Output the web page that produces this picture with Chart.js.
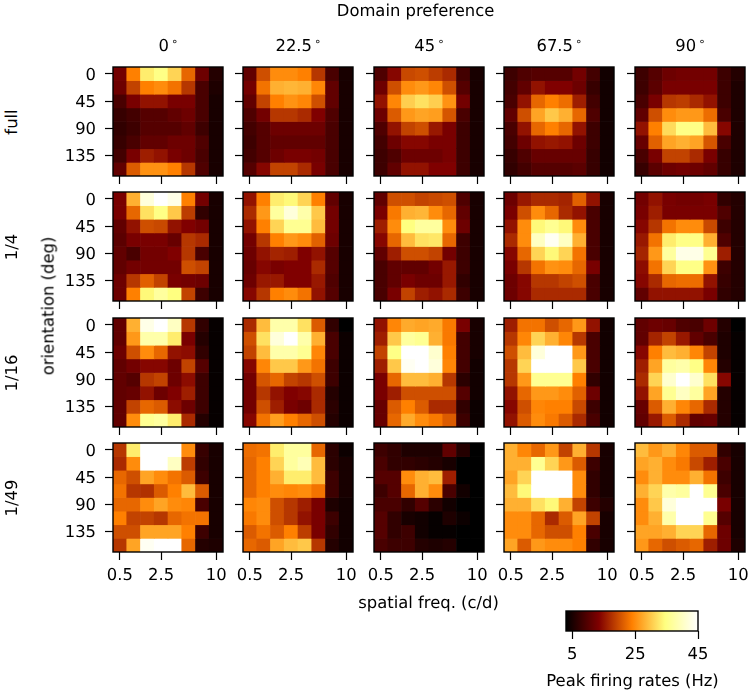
<!DOCTYPE html>
<html>
<head>
<meta charset="utf-8">
<script src="https://cdn.jsdelivr.net/npm/chart.js@4"></script>
<style>
  html, body { margin: 0; padding: 0; background: #fff; }
  #fig { position: relative; width: 750px; height: 692px; overflow: hidden; font-family: "DejaVu Sans", sans-serif; color: #000; text-rendering: geometricPrecision; }
  #fig canvas { position: absolute; }
  .lbl { position: absolute; font-size: 16.4px; white-space: nowrap; transform: translate(-50%, -50%); }
  .rot { transform: translate(-50%, -50%) rotate(-90deg); }
  .deg { font-size: 11px; vertical-align: 3px; margin-left: 3px; }
</style>
</head>
<body>
<div id="fig"></div>
<script>
// -------- data (Hz) --------------------------------
const domainLabels = ["0", "22.5", "45", "67.5", "90"];
const contrastLabels = ["full", "1/4", "1/16", "1/49"];
const freqLabels = ["0.5", "", "", "2.5", "", "", "", "10"];
const orientLabels = ["0", "", "45", "", "90", "", "135", ""];
const cbTicks = [5, 25, 45];

const full0 = [
  [12.5, 24, 33, 35, 31, 22, 12, 6], [12, 19, 24, 25, 23, 18, 9, 5.5],
  [9, 13, 15, 15, 13, 13, 9, 5], [7.5, 8.5, 10, 10, 11, 12, 9, 5],
  [7, 8, 10, 10, 10, 11, 8, 5], [7.5, 9, 11, 11, 12, 12, 9.5, 5],
  [8.5, 13, 16, 15, 13, 12, 9, 5], [11, 21, 25.5, 25.5, 24, 18, 9.5, 5]];
const full22 = [
  [11, 20, 25, 25, 24, 18, 9, 5], [12.5, 23, 28, 28.5, 28, 24.5, 11, 5],
  [11, 19, 24, 25.5, 24.5, 20, 11, 5], [9.5, 12.5, 18, 18, 17, 13.5, 9.5, 5],
  [8.5, 10, 12, 12, 12, 12, 9, 5], [8, 10, 11, 11, 11, 11, 9, 5],
  [8.5, 10, 12, 13, 13, 12.5, 9, 5], [10, 14, 19, 19, 17, 13, 9, 5]];
const full45 = [
  [9.5, 14, 19.5, 20, 18.5, 17, 8.5, 5], [12, 20, 25, 26, 24.5, 20, 10, 5],
  [15, 24.5, 30.5, 32, 30.5, 25.5, 12.5, 5], [12, 21, 26, 27, 26.5, 20.5, 9, 5],
  [9.5, 15, 19, 20, 15.5, 13, 8, 5], [8.5, 12, 14, 14, 13, 13, 8, 5],
  [8, 9.5, 12, 12, 12, 13, 8, 5], [8, 11, 15, 15, 13.5, 13.5, 8, 5]];
const full67 = [
  [8, 9.5, 10, 10, 10, 12.5, 8.5, 4.5], [8.5, 11, 15, 13.5, 13.5, 12, 7.5, 4.5],
  [9, 15, 22, 24, 22.5, 16, 8.5, 4.5], [11, 20, 27, 30, 28, 22, 9.5, 4.5],
  [9, 15, 22, 24, 22, 15, 8, 4.5], [8.5, 12, 15, 15.5, 15, 12, 8, 4.5],
  [7.5, 9.5, 11.5, 11.5, 11.5, 11.5, 7.5, 4.5], [7, 8.5, 10, 10, 10, 10.5, 7.5, 4.5]];
const full90 = [
  [8, 10, 12, 12.5, 12.5, 12.5, 8, 6], [8, 10.5, 13, 13, 13, 13, 8, 5.5],
  [9, 13, 18, 18.5, 17, 15, 8, 5.5], [11, 20, 25, 26, 26, 22.5, 9, 5.5],
  [15, 24, 31.5, 35, 35, 29, 14, 5.5], [11.5, 21.5, 27, 28, 27, 20.5, 9, 5.5],
  [9, 13, 19, 19, 17, 13, 7.5, 5.5], [7.5, 10.5, 12, 12.5, 12, 11, 7.5, 5.5]];

const quarter0 = [
  [13, 28, 42, 45, 43, 24, 12.5, 5], [13, 22, 32, 35, 30, 18.5, 7, 5],
  [11, 15, 20, 19.5, 15, 13.5, 12.5, 5], [10.5, 13, 13, 13, 11.5, 18, 17, 5],
  [11, 9, 12.5, 12.5, 13.5, 18, 9, 5], [11, 12.5, 12.5, 12.5, 12.5, 20, 19, 5],
  [12, 18, 21.5, 19, 13, 12.5, 12, 5], [12, 24, 34, 37, 34.5, 19, 8, 5]];
const quarter22 = [
  [15, 24, 33, 34, 31, 24, 11, 5], [17, 26, 37, 42, 38, 30, 12.5, 5],
  [15, 24, 31, 36, 36, 29, 12.5, 5], [12.5, 18, 24, 26, 25, 21.5, 12, 5],
  [12, 15, 16.5, 16, 13.5, 15, 10, 5], [11.5, 14, 13, 13.5, 13.5, 17, 10, 5],
  [12, 15.5, 15.5, 13.5, 13.5, 15.5, 9.5, 5], [14, 18, 24, 25, 23, 15, 10, 5]];
const quarter45 = [
  [11, 20, 20, 19, 19.5, 20, 9.5, 5], [13, 23.5, 28, 28.5, 25, 22, 11, 5],
  [16, 25, 34.5, 37, 37, 25, 12, 5], [14, 22, 29, 32, 32.5, 22, 8, 5],
  [11, 16, 20, 20, 19, 12.5, 8, 5], [9, 11, 11, 11, 12.5, 15.5, 8, 5],
  [9, 11, 13, 12, 12, 15.5, 7, 5], [9, 13, 19, 16, 15, 17, 8, 5]];
const quarter67 = [
  [12, 15.5, 17, 17, 16.5, 21.5, 15, 5], [13, 20, 25, 22, 17, 15, 9, 5],
  [15, 25, 34, 36, 34, 25, 9, 5], [17, 25, 40, 44, 40, 28, 9, 5],
  [14, 22, 31, 34, 31, 23, 9, 5], [13, 18, 23, 25.5, 25, 22, 13, 5],
  [12, 14, 18, 18, 19, 20, 9, 5], [12, 14, 17, 17, 17, 17, 9, 5]];
const quarter90 = [
  [12.5, 15, 13, 12.5, 12.5, 13, 7, 6], [13, 16, 13, 13, 13, 13, 9.5, 6],
  [14, 18, 23, 25, 25, 19.5, 8, 6], [15.5, 23, 33, 35, 35, 28, 9.5, 6],
  [16.5, 26, 37, 43, 43, 36, 16, 6], [14.5, 23, 31, 35, 35, 25.5, 8, 6],
  [14, 17, 22, 22.5, 22.5, 15, 7.5, 6], [11, 15, 15, 15, 15, 13, 7, 6]];

const sixteenth0 = [
  [11, 28, 43, 45, 40, 18, 7, 3.5], [11, 26, 38, 38, 33, 13, 6, 3.5],
  [12, 20, 25, 22, 15, 14.5, 7, 3.5], [11, 12.5, 14, 14, 12, 19, 10, 3.5],
  [11, 10, 18, 19, 12, 14.5, 8, 3.5], [11, 11.5, 15, 12, 13.5, 16, 8, 3.5],
  [11, 19, 22, 21, 14.5, 12, 8, 3.5], [11, 25, 36, 37, 33, 17, 6, 3.5]];
const sixteenth22 = [
  [17, 29, 38, 38, 32, 21, 7, 3], [20, 32, 42, 45, 38, 28, 9, 4],
  [19, 29, 38, 38, 36, 24.5, 9, 4], [14, 24.5, 30, 30, 26, 23, 8, 4],
  [12.5, 20.5, 22, 19, 18, 20, 8, 4], [12.5, 18, 15, 13.5, 14, 17, 6, 4],
  [12.5, 20, 16, 13, 12, 17, 6.5, 4], [14, 23, 26.5, 24, 22, 20, 6, 4]];
const sixteenth45 = [
  [15, 24.5, 27.5, 27, 27.5, 23.5, 13, 5], [16, 30, 37, 36, 28, 23.5, 8.5, 5],
  [19, 35, 45, 45, 41, 24, 8.5, 5], [16, 30, 44, 45, 42, 24.5, 8.5, 4.5],
  [13, 22, 29, 29, 28, 18, 6.5, 4.5], [13, 16, 20, 20, 20, 20, 10, 4.5],
  [11.5, 21, 24, 21, 17, 17, 7, 4], [11.5, 22, 27.5, 25, 23.5, 21, 8, 4]];
const sixteenth67 = [
  [16, 23, 23, 20, 22, 26, 15, 4.5], [18, 24.5, 31, 28, 24.5, 18, 9, 4.5],
  [20, 29, 42, 45, 45, 26, 9, 4.5], [18, 31, 45, 45, 45, 30, 9, 4.5],
  [18, 26, 36, 36, 36, 24, 7, 4.5], [15, 22, 26, 26, 25, 21.5, 12, 4.5],
  [14, 20, 24.5, 24, 24, 19.5, 8, 4.5], [15, 21, 25, 23.5, 21, 17, 9, 4.5]];
const sixteenth90 = [
  [11, 12, 11.5, 9.5, 9, 12, 6, 3], [11, 16.5, 19, 15.5, 11, 9, 5.5, 3.5],
  [14, 24, 29, 28, 24.5, 19, 5.5, 3.5], [16, 27, 37, 38, 35, 24.5, 6, 3.5],
  [17, 31, 41, 45, 41, 32, 14, 3.5], [15, 27, 36, 40, 37, 27, 6, 3.5],
  [11.5, 21, 28, 24.5, 22, 17, 6, 3.5], [11, 15.5, 21, 17, 11, 11.5, 6, 3.5]];

const fortyNinth0 = [
  [18, 33, 45, 45, 45, 25, 7.5, 5], [17, 25, 45, 45, 40, 18.5, 7, 5],
  [22, 20, 27, 25, 23, 21, 8, 5], [23, 18, 17.5, 21, 24, 29, 21, 5],
  [22, 22, 25, 27, 25, 24.5, 9, 5], [24, 19, 19, 18, 22, 23, 23, 5],
  [20, 20, 27, 27, 27, 24, 8, 5], [18, 27, 44, 45, 45, 22, 6, 5.5]];
const fortyNinth22 = [
  [22.5, 23, 33, 37, 37, 22, 6.5, 4], [22, 24, 31, 37, 39, 29, 6.5, 5],
  [22, 24, 28, 33, 33, 29, 8, 5], [22, 24, 25, 24.5, 25, 23, 8, 5],
  [24.5, 25, 20, 18, 16, 13, 5.5, 4.5], [23.5, 25, 20, 18, 15, 13, 8, 4.5],
  [21, 23, 21, 24, 18.5, 13, 7, 4.5], [22, 21, 27, 29, 30, 18, 6, 4.5]];
const fortyNinth45 = [
  [8, 7, 5.5, 5.5, 5.5, 11, 6, 3], [9, 7, 7, 6.5, 6, 5, 3, 3],
  [10, 10, 25, 28, 29, 16, 3, 3], [8, 10, 22, 28, 25, 9, 4.5, 3],
  [9, 9, 7, 10, 6.5, 4.5, 3, 3], [10, 7, 5, 4.5, 3.5, 5.5, 4, 3],
  [10, 7, 8, 4.5, 3.5, 3.5, 3, 3], [9, 8, 8, 6, 5.5, 6, 3, 3]];
const fortyNinth67 = [
  [28, 24.5, 22, 26, 19, 28, 18, 5], [28, 28, 36, 31, 26, 21, 8, 5],
  [27, 31, 45, 45, 45, 25, 7, 5], [29, 34, 45, 45, 45, 25, 7, 5],
  [28, 28, 32, 34, 28, 19, 8, 6], [25, 25, 22, 17, 21, 27, 19, 5],
  [25, 25, 22, 20, 20, 24, 9, 5], [27, 21, 26, 25, 25, 24, 7, 5]];
const fortyNinth90 = [
  [29, 26, 28, 24.5, 21, 21, 7, 5], [27, 28, 25, 23.5, 19.5, 16, 9, 5],
  [25, 28, 25, 25, 28, 23, 8, 5], [28, 31, 38, 37, 45, 36, 9, 5],
  [25, 30, 42, 45, 45, 45, 13, 5], [25, 28, 38, 45, 45, 36, 10, 5],
  [27, 27, 28, 31, 31, 22, 12, 5], [26, 22, 20, 21, 22, 16, 12, 5.5]];

const panels = [
  [full0, full22, full45, full67, full90],
  [quarter0, quarter22, quarter45, quarter67, quarter90],
  [sixteenth0, sixteenth22, sixteenth45, sixteenth67, sixteenth90],
  [fortyNinth0, fortyNinth22, fortyNinth45, fortyNinth67, fortyNinth90]
];

// -------- layout ----------
const fig = document.getElementById("fig");
const FONT = "DejaVu Sans";
const TICK_SIZE = 16.4;
const TICK_LEN = 8;
const colLefts = [113, 243, 374, 504, 635];
const rowTops = [67, 192, 318, 443];
const PLOT_W = 110, PLOT_H = 109;
const M_LEFT = 52, M_TOP = 4, M_RIGHT = 4, M_BOTTOM = 38;
const VMIN = 3, VMAX = 45;

Chart.defaults.font.family = FONT;
Chart.defaults.color = "#000";

// -------- colormap (afmhot) ----------
function afmhot(v) {
  const t = Math.min(1, Math.max(0, (v - VMIN) / (VMAX - VMIN)));
  const ch = (x) => Math.round(255 * Math.min(1, Math.max(0, x)));
  return `rgb(${ch(2 * t)},${ch(2 * t - 0.5)},${ch(2 * t - 1)})`;
}

const framePlugin = {
  id: "frame",
  beforeDraw(chart) { chart.ctx.textRendering = "geometricPrecision"; },
  afterDatasetsDraw(chart) {
    const { ctx, chartArea: a } = chart;
    ctx.save();
    ctx.strokeStyle = "#000";
    ctx.lineWidth = 1.4;
    ctx.strokeRect(a.left, a.top, a.right - a.left, a.bottom - a.top);
    ctx.restore();
  }
};

function addCanvas(left, top, w, h) {
  const c = document.createElement("canvas");
  c.width = w; c.height = h;
  c.style.left = left + "px"; c.style.top = top + "px";
  c.style.width = w + "px"; c.style.height = h + "px";
  fig.appendChild(c);
  return c;
}

function addLabel(text, x, y, rotated) {
  const d = document.createElement("div");
  d.className = rotated ? "lbl rot" : "lbl";
  d.textContent = text;
  d.style.left = x + "px"; d.style.top = y + "px";
  fig.appendChild(d);
  return d;
}

// sin esto el layout reserva media etiqueta y encoge el area
function noScalePadding(s) {
  s.paddingTop = s.paddingBottom = s.paddingLeft = s.paddingRight = 0;
}

function buildPanel(canvas, rates, showY, showX) {
  const datasets = rates.map((row, r) => ({
    data: row.map(() => [r - 0.5, r + 0.5]),
    backgroundColor: row.map(afmhot),
    borderWidth: 0,
    grouped: false,
    barPercentage: 1,
    categoryPercentage: 1
  }));
  return new Chart(canvas, {
    type: "bar",
    data: { labels: freqLabels.map((_, i) => i), datasets },
    options: {
      responsive: false,
      animation: false,
      layout: { padding: { top: M_TOP, right: M_RIGHT } },
      plugins: { legend: { display: false }, tooltip: { enabled: false }, title: { display: false } },
      scales: {
        x: {
          type: "category",
          offset: true,
          grid: { offset: false, drawOnChartArea: false, tickColor: "#000", tickLength: TICK_LEN, tickWidth: 1.2 },
          border: { display: false },
          ticks: {
            autoSkip: false, maxRotation: 0, padding: 6,
            font: { size: TICK_SIZE },
            callback: (v) => (showX ? freqLabels[v] : "")
          },
          afterBuildTicks: (s) => { s.ticks = s.ticks.filter((t) => freqLabels[t.value] !== ""); },
          afterFit: (s) => { s.height = M_BOTTOM; noScalePadding(s); }
        },
        y: {
          type: "linear",
          reverse: true,
          min: -0.5,
          max: 7.5,
          grid: { drawOnChartArea: false, tickColor: "#000", tickLength: TICK_LEN, tickWidth: 1.2 },
          border: { display: false },
          ticks: {
            autoSkip: false, padding: 9, labelOffset: 1.5,
            font: { size: TICK_SIZE },
            callback: (v) => (showY ? orientLabels[v] : "")
          },
          afterBuildTicks: (s) => {
            s.ticks = orientLabels.map((l, i) => ({ value: i, l })).filter((t) => t.l !== "").map((t) => ({ value: t.value }));
          },
          afterFit: (s) => { s.width = M_LEFT; noScalePadding(s); }
        }
      }
    },
    plugins: [framePlugin]
  });
}

// -------- panels ----------
panels.forEach((rowPanels, ri) => {
  rowPanels.forEach((rates, ci) => {
    const c = addCanvas(colLefts[ci] - M_LEFT, rowTops[ri] - M_TOP, M_LEFT + PLOT_W + M_RIGHT, M_TOP + PLOT_H + M_BOTTOM);
    buildPanel(c, rates, ci === 0, ri === panels.length - 1);
  });
});

// -------- colorbar ----------
const cbCanvas = addCanvas(536, 606, 200, 65);
new Chart(cbCanvas, {
  type: "bar",
  data: {
    labels: ["rate"],
    datasets: [{
      data: [[VMIN, VMAX]],
      borderWidth: 0,
      barPercentage: 1,
      categoryPercentage: 1,
      backgroundColor: (c) => {
        const a = c.chart.chartArea;
        if (!a) return "#000";
        const g = c.chart.ctx.createLinearGradient(a.left, 0, a.right, 0);
        [0, 0.25, 0.5, 0.75, 1].forEach((p) => g.addColorStop(p, afmhot(VMIN + p * (VMAX - VMIN))));
        return g;
      }
    }]
  },
  options: {
    indexAxis: "y",
    responsive: false,
    animation: false,
    layout: { padding: { top: 5, left: 30, right: 38 } },
    plugins: { legend: { display: false }, tooltip: { enabled: false } },
    scales: {
      y: { display: false },
      x: {
        type: "linear",
        min: VMIN,
        max: VMAX,
        grid: { drawOnChartArea: false, tickColor: "#000", tickLength: TICK_LEN, tickWidth: 1.2 },
        border: { display: false },
        ticks: { padding: 6, maxRotation: 0, font: { size: TICK_SIZE } },
        afterBuildTicks: (s) => { s.ticks = cbTicks.map((v) => ({ value: v })); },
        afterFit: (s) => { s.height = 40; noScalePadding(s); }
      }
    }
  },
  plugins: [framePlugin]
});

// -------- textos ----------
addLabel("Domain preference", 415.5, 9.5);
domainLabels.forEach((t, i) => {
  const d = addLabel(t, colLefts[i] + PLOT_W / 2, 45);
  const ring = document.createElement("span");
  ring.className = "deg";
  ring.textContent = "°";
  d.appendChild(ring);
});
contrastLabels.forEach((t, i) => addLabel(t, 10.5, rowTops[i] + PLOT_H / 2, true));
addLabel("orientation (deg)", 48, 306, true);
addLabel("spatial freq. (c/d)", 428.5, 602);
addLabel("Peak firing rates (Hz)", 632.5, 680);
</script>
</body>
</html>
